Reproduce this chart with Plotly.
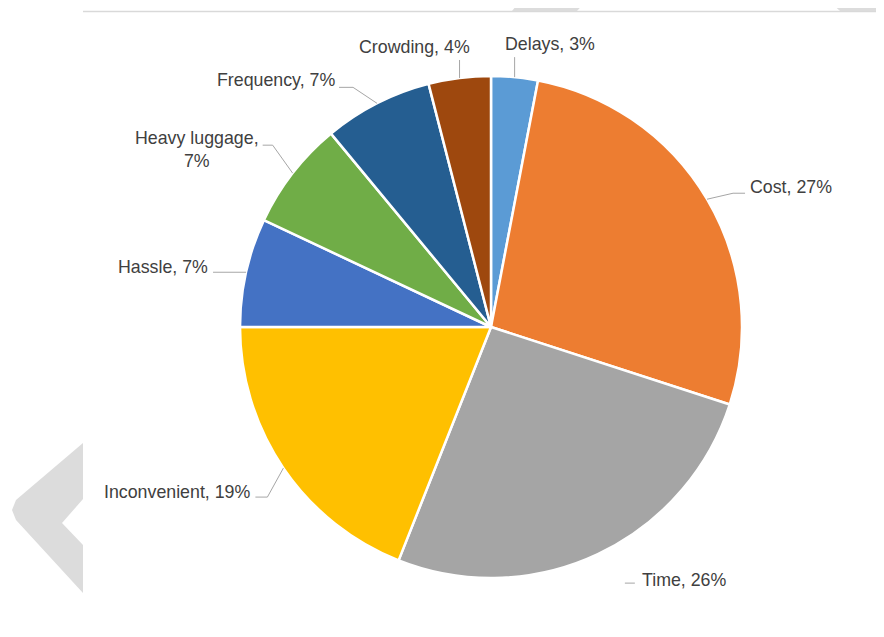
import math
import plotly.graph_objects as go

# ---- data ----
categories = ["Delays", "Cost", "Time", "Inconvenient", "Hassle",
              "Heavy luggage", "Frequency", "Crowding"]
shares = [3, 27, 26, 19, 7, 7, 7, 4]
label_texts = ["Delays, 3%", "Cost, 27%", "Time, 26%", "Inconvenient, 19%",
               "Hassle, 7%", "Heavy luggage,<br>7%", "Frequency, 7%", "Crowding, 4%"]

# ---- styles ----
colors = ["#5B9BD5", "#ED7D31", "#A5A5A5", "#FFC000", "#4472C4",
          "#70AD47", "#255E91", "#9E480E"]
OFF = 8                      # page body margin in the browser
W, H = 884 - 2 * OFF, 637 - 2 * OFF
CX, CY, R = 491, 327, 251    # pie centre / radius in window pixels

# label layout relative to the slice's mid-angle point on the rim
label_style = {
    "Delays":        dict(start=(0, 0),   elbow=(0, -20),   tail=0,   text=(35, -33),  xa="center"),
    "Cost":          dict(start=(0, 0),   elbow=(26, -6),   tail=12,  text=(41, -12),  xa="left"),
    "Time":          dict(start=(27, 29), elbow=(27, 29),   tail=10,  text=(42, 26),   xa="left"),
    "Inconvenient":  dict(start=(0, 0),   elbow=(-16, 29),  tail=-12, text=(-31, 24),  xa="right"),
    "Hassle":        dict(start=(0, 0),   elbow=(-3, 0),    tail=-30, text=(-36, -5),  xa="right"),
    "Heavy luggage": dict(start=(0, 0),   elbow=(-20, -28), tail=-10, text=(-96, -24), xa="center"),
    "Frequency":     dict(start=(0, 0),   elbow=(-24, -16), tail=-14, text=(-40, -23), xa="right"),
    "Crowding":      dict(start=(0, 0),   elbow=(0, -18),   tail=0,   text=(-45, -31), xa="center"),
}


def px(x):
    return (x - OFF) / W


def py(y):
    return 1 - (y - OFF) / H


fig = go.Figure()
fig.add_trace(go.Pie(
    labels=categories,
    values=shares,
    sort=False,
    direction="clockwise",
    rotation=0,
    marker=dict(colors=colors, line=dict(color="white", width=2.5)),
    textinfo="none",
    hoverinfo="label+percent",
    showlegend=False,
    domain=dict(x=[px(CX - R), px(CX + R)], y=[py(CY + R), py(CY - R)]),
))

shapes = []
annotations = []
total = sum(shares)
cum = 0
for cat, val, txt in zip(categories, shares, label_texts):
    mid = (cum + val / 2) / total * 2 * math.pi
    cum += val
    ax = CX + R * math.sin(mid)
    ay = CY - R * math.cos(mid)
    st = label_style[cat]
    sx, sy = ax + st["start"][0], ay + st["start"][1]
    ex, ey = ax + st["elbow"][0], ay + st["elbow"][1]
    tx = ex + st["tail"]
    path = f"M {px(sx)},{py(sy)} L {px(ex)},{py(ey)} L {px(tx)},{py(ey)}"
    shapes.append(dict(type="path", xref="paper", yref="paper", path=path,
                       line=dict(color="#A6A6A6", width=1)))
    annotations.append(dict(
        x=px(ax + st["text"][0]), y=py(ay + st["text"][1]),
        xref="paper", yref="paper", text=txt, showarrow=False,
        xanchor=st["xa"], yanchor="middle", align="center",
        font=dict(family="Liberation Sans, Arial, sans-serif", size=17.8, color="#404040"),
    ))

# decorative background elements (watermark chevrons and top rule)
deco_color = "#DCDCDC"


def poly(points):
    return "M " + " L ".join(f"{px(x)},{py(y)}" for x, y in points) + " Z"


shapes.append(dict(type="path", xref="paper", yref="paper", layer="below",
                   path=poly([(521, 0), (587, 0), (577, 11), (512, 11)]),
                   fillcolor=deco_color, line=dict(width=0)))
shapes.append(dict(type="path", xref="paper", yref="paper", layer="below",
                   path=poly([(828, 0), (873, 0), (884, 8), (884, 11), (840, 11)]),
                   fillcolor=deco_color, line=dict(width=0)))
shapes.append(dict(type="path", xref="paper", yref="paper", layer="below",
                   path=poly([(83, 443), (16, 500), (12, 510), (16, 520), (83, 593),
                              (83, 545), (62, 523), (83, 499)]),
                   fillcolor=deco_color, line=dict(width=0)))
shapes.append(dict(type="line", xref="paper", yref="paper", layer="below",
                   x0=px(83), x1=px(884), y0=py(11.5), y1=py(11.5),
                   line=dict(color="#D9D9D9", width=1.5)))

fig.update_layout(
    width=W, height=H,
    margin=dict(l=0, r=0, t=0, b=0),
    paper_bgcolor="white",
    plot_bgcolor="white",
    shapes=shapes,
    annotations=annotations,
)

fig.write_html("out.html")
